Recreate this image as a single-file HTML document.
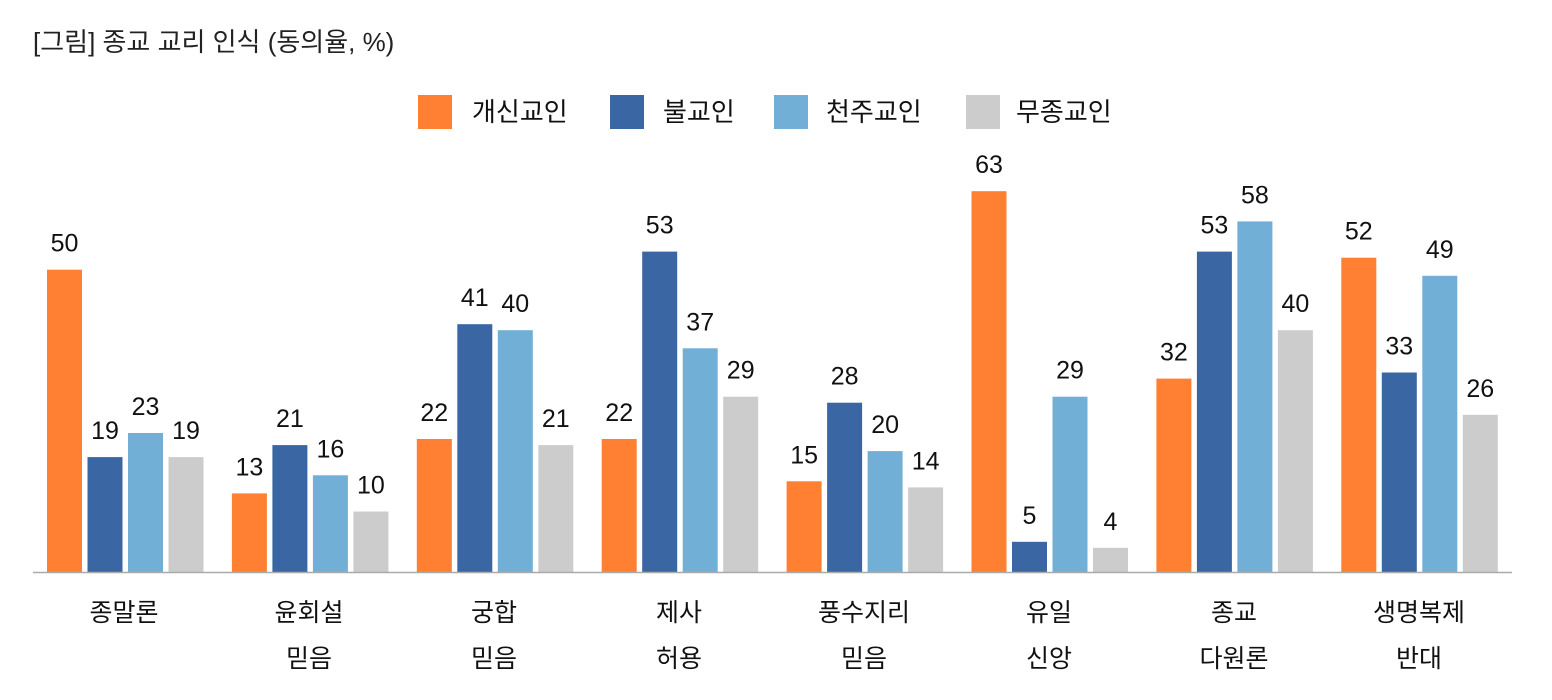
<!DOCTYPE html>
<html><head><meta charset="utf-8"><style>
html,body{margin:0;padding:0;background:#fff;}
svg{display:block;font-family:"Liberation Sans","Noto Sans CJK KR",sans-serif;}
</style></head><body>
<svg width="1552" height="700" viewBox="0 0 1552 700" xmlns="http://www.w3.org/2000/svg">
<text x="33" y="51" font-size="26" fill="#222">[그림] 종교 교리 인식 (동의율, %)</text>
<rect x="418" y="95" width="34" height="34" fill="#FF8033"/><text x="472" y="121" font-size="26" fill="#111">개신교인</text>
<rect x="610" y="95" width="34" height="34" fill="#3A66A3"/><text x="663" y="121" font-size="26" fill="#111">불교인</text>
<rect x="774" y="95" width="34" height="34" fill="#72AFD6"/><text x="826" y="121" font-size="26" fill="#111">천주교인</text>
<rect x="966" y="95" width="34" height="34" fill="#CCCCCC"/><text x="1016" y="121" font-size="26" fill="#111">무종교인</text>

<g font-size="25" fill="#111" text-anchor="middle">
<g transform="translate(47,0)">
<rect x="0" y="269.7" width="35" height="302.3" fill="#FF8033"/><text x="17.5" y="251.7">50</text>
<rect x="40.5" y="457.1" width="35" height="114.9" fill="#3A66A3"/><text x="58" y="439.1">19</text>
<rect x="81" y="433" width="35" height="139" fill="#72AFD6"/><text x="98.5" y="415">23</text>
<rect x="121.5" y="457.1" width="35" height="114.9" fill="#CCCCCC"/><text x="139" y="439.1">19</text>
</g>
<g transform="translate(231.9,0)">
<rect x="0" y="493.4" width="35" height="78.6" fill="#FF8033"/><text x="17.5" y="475.4">13</text>
<rect x="40.5" y="445.1" width="35" height="126.9" fill="#3A66A3"/><text x="58" y="427.1">21</text>
<rect x="81" y="475.3" width="35" height="96.7" fill="#72AFD6"/><text x="98.5" y="457.3">16</text>
<rect x="121.5" y="511.5" width="35" height="60.5" fill="#CCCCCC"/><text x="139" y="493.5">10</text>
</g>
<g transform="translate(416.8,0)">
<rect x="0" y="439" width="35" height="133" fill="#FF8033"/><text x="17.5" y="421">22</text>
<rect x="40.5" y="324.2" width="35" height="247.8" fill="#3A66A3"/><text x="58" y="306.2">41</text>
<rect x="81" y="330.2" width="35" height="241.8" fill="#72AFD6"/><text x="98.5" y="312.2">40</text>
<rect x="121.5" y="445.1" width="35" height="126.9" fill="#CCCCCC"/><text x="139" y="427.1">21</text>
</g>
<g transform="translate(601.7,0)">
<rect x="0" y="439" width="35" height="133" fill="#FF8033"/><text x="17.5" y="421">22</text>
<rect x="40.5" y="251.6" width="35" height="320.4" fill="#3A66A3"/><text x="58" y="233.6">53</text>
<rect x="81" y="348.3" width="35" height="223.7" fill="#72AFD6"/><text x="98.5" y="330.3">37</text>
<rect x="121.5" y="396.7" width="35" height="175.3" fill="#CCCCCC"/><text x="139" y="378.7">29</text>
</g>
<g transform="translate(786.6,0)">
<rect x="0" y="481.3" width="35" height="90.7" fill="#FF8033"/><text x="17.5" y="463.3">15</text>
<rect x="40.5" y="402.7" width="35" height="169.3" fill="#3A66A3"/><text x="58" y="384.7">28</text>
<rect x="81" y="451.1" width="35" height="120.9" fill="#72AFD6"/><text x="98.5" y="433.1">20</text>
<rect x="121.5" y="487.4" width="35" height="84.6" fill="#CCCCCC"/><text x="139" y="469.4">14</text>
</g>
<g transform="translate(971.5,0)">
<rect x="0" y="191.2" width="35" height="380.8" fill="#FF8033"/><text x="17.5" y="173.2">63</text>
<rect x="40.5" y="541.8" width="35" height="30.2" fill="#3A66A3"/><text x="58" y="523.8">5</text>
<rect x="81" y="396.7" width="35" height="175.3" fill="#72AFD6"/><text x="98.5" y="378.7">29</text>
<rect x="121.5" y="547.8" width="35" height="24.2" fill="#CCCCCC"/><text x="139" y="529.8">4</text>
</g>
<g transform="translate(1156.4,0)">
<rect x="0" y="378.6" width="35" height="193.4" fill="#FF8033"/><text x="17.5" y="360.6">32</text>
<rect x="40.5" y="251.6" width="35" height="320.4" fill="#3A66A3"/><text x="58" y="233.6">53</text>
<rect x="81" y="221.4" width="35" height="350.6" fill="#72AFD6"/><text x="98.5" y="203.4">58</text>
<rect x="121.5" y="330.2" width="35" height="241.8" fill="#CCCCCC"/><text x="139" y="312.2">40</text>
</g>
<g transform="translate(1341.3,0)">
<rect x="0" y="257.7" width="35" height="314.3" fill="#FF8033"/><text x="17.5" y="239.7">52</text>
<rect x="40.5" y="372.5" width="35" height="199.5" fill="#3A66A3"/><text x="58" y="354.5">33</text>
<rect x="81" y="275.8" width="35" height="296.2" fill="#72AFD6"/><text x="98.5" y="257.8">49</text>
<rect x="121.5" y="414.8" width="35" height="157.2" fill="#CCCCCC"/><text x="139" y="396.8">26</text>
</g>
</g>

<line x1="33" y1="572.5" x2="1512" y2="572.5" stroke="#aaa" stroke-width="1.5"/>
<g font-size="25" fill="#111" text-anchor="middle">
<text x="124" y="621">종말론</text>
<text x="309" y="621">윤회설</text><text x="309" y="667">믿음</text>
<text x="494" y="621">궁합</text><text x="494" y="667">믿음</text>
<text x="679" y="621">제사</text><text x="679" y="667">허용</text>
<text x="864" y="621">풍수지리</text><text x="864" y="667">믿음</text>
<text x="1049" y="621">유일</text><text x="1049" y="667">신앙</text>
<text x="1234" y="621">종교</text><text x="1234" y="667">다원론</text>
<text x="1419" y="621">생명복제</text><text x="1419" y="667">반대</text>
</g>
</svg>
</body></html>
